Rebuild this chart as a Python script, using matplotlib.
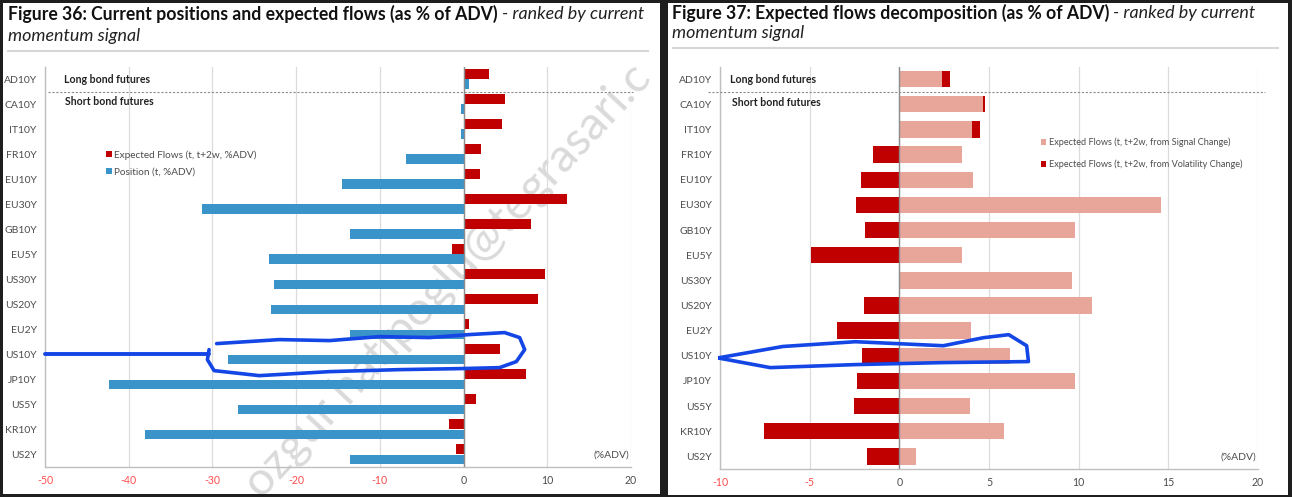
import matplotlib
matplotlib.use('Agg')
import matplotlib.pyplot as plt
from matplotlib.patches import Rectangle
import matplotlib.transforms as mtrans
import numpy as np

plt.rcParams['font.family'] = ['Lato', 'DejaVu Sans']

contracts = ['AD10Y', 'CA10Y', 'IT10Y', 'FR10Y', 'EU10Y', 'EU30Y', 'GB10Y', 'EU5Y',
             'US30Y', 'US20Y', 'EU2Y', 'US10Y', 'JP10Y', 'US5Y', 'KR10Y', 'US2Y']
# Figure 36
flows = [3.0, 4.9, 4.6, 2.1, 2.0, 12.3, 8.0, -1.4, 9.7, 8.9, 0.6, 4.3, 7.5, 1.5, -1.8, -0.85]
positions = [0.6, -0.3, -0.3, -6.9, -14.5, -31.2, -13.6, -23.3, -22.6, -23.0, -13.6, -28.1,
             -42.4, -27.0, -38.0, -13.6]
# Figure 37
signal_flows = [2.36, 4.67, 4.07, 3.48, 4.09, 14.6, 9.78, 3.48, 9.64, 10.72, 4.0, 6.18,
                9.8, 3.96, 5.82, 0.92]
vol_flows = [0.47, 0.11, 0.43, -1.48, -2.16, -2.4, -1.93, -4.92, 0.0, -1.96, -3.48, -2.07,
             -2.34, -2.52, -7.57, -1.8]
left_ticks = [-50, -40, -30, -20, -10, 0, 10, 20]
right_ticks = [-10, -5, 0, 5, 10, 15, 20]

# hand drawn highlight around US10Y (data coords of each panel)
mark_left_line = ([-50, -30.4], [11.0, 11.0])
mark_left_loop = ([-29.5, -22.0, -16.0, -10.0, -4.1, 0.7, 4.9, 6.7, 7.3, 6.3, 4.3, -0.5, -7.7,
                   -16.0, -24.4, -29.8, -30.6, -30.4],
                  [10.57, 10.41, 10.45, 10.29, 10.33, 10.21, 10.13, 10.33, 10.81, 11.29, 11.53,
                   11.57, 11.61, 11.69, 11.85, 11.65, 11.21, 10.81])
mark_right_loop = ([-10.0, -6.5, -2.45, 2.45, 4.7, 6.1, 7.1, 7.2, 2.45, -2.45, -7.2, -10.0],
                   [11.07, 10.63, 10.44, 10.6, 10.28, 10.16, 10.6, 11.23, 11.27, 11.35, 11.47, 11.1])

RED = '#C00000'
BLUE = '#3A93C9'
PINK = '#E8A69B'
GREY_TXT = '#4D4D4D'
W, H = 1292, 497

fig = plt.figure(figsize=(W / 100, H / 100), dpi=100, facecolor='#1E1E1E')


def box(l, t, r, b):
    return [l / W, 1 - b / H, (r - l) / W, (b - t) / H]


def panel(l, t, r, b):
    rect = Rectangle((l / W, 1 - b / H), (r - l) / W, (b - t) / H, transform=fig.transFigure,
                     facecolor='white', edgecolor='none', zorder=-3)
    fig.add_artist(rect)
    return rect


left_panel = panel(3, 3, 660, 494)
right_panel = panel(668, 3, 1288, 495)

renderer = fig.canvas.get_renderer()


def title(x, y1, y2, bold, ital1, ital2):
    t = fig.text(x / W, 1 - y1 / H, bold, fontsize=12.7, fontweight='bold', color='#111111',
                 va='center', ha='left')
    bb = t.get_window_extent(renderer)
    fig.text(bb.x1 / W + 4 / W, 1 - y1 / H, ital1, fontsize=12.9, style='italic',
             color='#222222', va='center', ha='left')
    fig.text(x / W, 1 - y2 / H, ital2, fontsize=12.9, style='italic', color='#222222',
             va='center', ha='left')


title(8, 14, 36, 'Figure 36: Current positions and expected flows (as % of ADV)',
      '- ranked by current', 'momentum signal')
title(672, 13, 33, 'Figure 37: Expected flows decomposition (as % of ADV)',
      '- ranked by current', 'momentum signal')
fig.add_artist(plt.Line2D([8 / W, 648 / W], [1 - 51 / H] * 2, transform=fig.transFigure,
                          color='#D6D6D6', lw=1.5))
fig.add_artist(plt.Line2D([673 / W, 1278 / W], [1 - 48 / H] * 2, transform=fig.transFigure,
                          color='#D6D6D6', lw=1.5))

# watermark, behind the charts
wm = fig.text(447 / W, 1 - 280 / H, 'ozgur.hatipoglu@tegrasari.c', fontsize=34, rotation=47,
              color='#DADADA', ha='center', va='center', zorder=-2)
wm.set_clip_path(left_panel)

y = np.arange(len(contracts))


def style_axis(ax, ticks, split_from, split_to):
    ax.set_facecolor('none')
    ax.set_ylim(15.5, -0.48)
    ax.set_xlim(ticks[0], ticks[-1])
    ax.set_xticks(ticks)
    ax.set_yticks(y)
    ax.set_yticklabels(contracts, fontsize=7.5, color=GREY_TXT)
    ax.set_xticklabels([str(t) for t in ticks], fontsize=7.6)
    for lab, t in zip(ax.get_xticklabels(), ticks):
        lab.set_color('#FF4D4D' if t < 0 else GREY_TXT)
    ax.tick_params(length=0, axis='y', pad=6)
    ax.tick_params(length=0, axis='x', pad=6)
    for s in ['top', 'right']:
        ax.spines[s].set_visible(False)
    for s in ['left', 'bottom']:
        ax.spines[s].set_color('#BFBFBF')
        ax.spines[s].set_linewidth(1.0)
    ax.grid(axis='x', color='#DCDCDC', lw=0.9)
    ax.set_axisbelow(True)
    ax.axvline(0, color='#8C8C8C', lw=1.0, zorder=3)
    # long / short split
    tr = mtrans.blended_transform_factory(ax.transAxes, ax.transData)
    ax.plot([split_from, split_to], [0.5, 0.5], transform=tr, color='#8C8C8C', lw=0.8,
            ls=(0, (2, 1.5)), clip_on=False, zorder=4)
    ax.text(0.997, 0.018, '(%ADV)', transform=ax.transAxes, ha='right', va='bottom',
            fontsize=7.5, color=GREY_TXT)


# ---- Figure 36
ax1 = fig.add_axes(box(45, 67, 631, 467))
ax1.barh(y - 0.2, flows, height=0.4, color=RED, zorder=2, label='Expected Flows (t, t+2w, %ADV)')
ax1.barh(y + 0.2, positions, height=0.38, color=BLUE, zorder=2, label='Position (t, %ADV)')
style_axis(ax1, left_ticks, 0.005, 1.003)
ax1.text(-47.7, 0.0, 'Long bond futures', fontsize=7.6, fontweight='bold', color='#222222',
         va='center')
ax1.text(-47.6, 0.9, 'Short bond futures', fontsize=7.6, fontweight='bold', color='#222222',
         va='center')
ax1.legend(loc='upper left', bbox_to_anchor=(101 / W, 1 - 145 / H),
           bbox_transform=fig.transFigure, frameon=False, fontsize=7.2, labelcolor=GREY_TXT,
           handlelength=0.55, handleheight=0.55, handletextpad=0.3, labelspacing=0.8,
           borderpad=0)
ax1.plot(*mark_left_line, color='#1446E6', lw=2.8, solid_capstyle='round', clip_on=False, zorder=6)
ax1.plot(*mark_left_loop, color='#1446E6', lw=2.6, solid_capstyle='round',
         solid_joinstyle='round', clip_on=False, zorder=6)

# ---- Figure 37
ax2 = fig.add_axes(box(720, 67, 1258, 469))
vol_left = np.where(np.array(vol_flows) > 0, signal_flows, 0)
ax2.barh(y, signal_flows, height=0.65, color=PINK, zorder=2,
         label='Expected Flows (t, t+2w, from Signal Change)')
ax2.barh(y, vol_flows, left=vol_left, height=0.65, color=RED, zorder=2,
         label='Expected Flows (t, t+2w, from Volatility Change)')
style_axis(ax2, right_ticks, -0.022, 1.013)
ax2.text(-9.45, 0.0, 'Long bond futures', fontsize=7.6, fontweight='bold', color='#222222',
         va='center')
ax2.text(-9.35, 0.92, 'Short bond futures', fontsize=7.6, fontweight='bold', color='#222222',
         va='center')
ax2.legend(loc='upper left', bbox_to_anchor=(1036 / W, 1 - 133 / H),
           bbox_transform=fig.transFigure, frameon=False, fontsize=6.6, labelcolor=GREY_TXT,
           handlelength=0.6, handleheight=0.6, handletextpad=0.3, labelspacing=1.35,
           borderpad=0)
ax2.plot(*mark_right_loop, color='#1446E6', lw=2.6, solid_joinstyle='round', clip_on=False,
         zorder=6)

fig.savefig('out.png', dpi=100, facecolor=fig.get_facecolor())
